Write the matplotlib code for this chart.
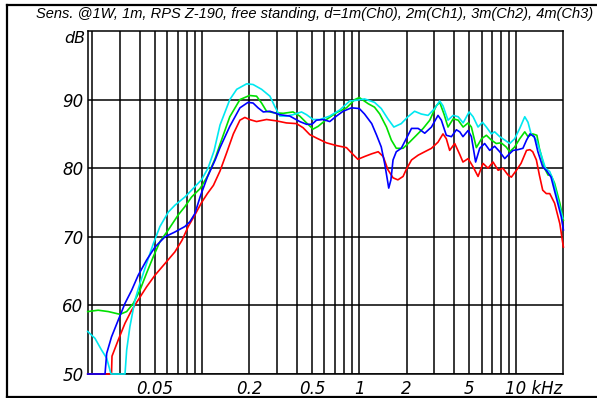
import matplotlib
matplotlib.use("Agg")
import matplotlib.pyplot as plt
from matplotlib.lines import Line2D

# frequency in kHz, level in dB -- one pair of lists per channel
freq_ch0 = [0.0187, 0.0265, 0.0267, 0.0293, 0.0323, 0.0356, 0.0392, 0.0443, 0.0501, 0.058,
            0.0671, 0.0745, 0.0816, 0.09, 0.0992, 0.108, 0.118, 0.13, 0.143, 0.158,
            0.174, 0.187, 0.2, 0.222, 0.257, 0.297, 0.344, 0.399, 0.439, 0.484,
            0.534, 0.618, 0.716, 0.829, 0.913, 0.98, 1.08, 1.2, 1.32, 1.42,
            1.52, 1.64, 1.76, 1.9, 1.99, 2.15, 2.37, 2.61, 2.88, 3.17,
            3.41, 3.58, 3.76, 4.05, 4.36, 4.57, 4.93, 5.3, 5.7, 6.13,
            6.6, 7.1, 7.65, 8.2, 8.85, 9.29, 10.0, 10.7, 11.6, 12.2,
            12.7, 13.4, 14.0, 14.7, 15.5, 16.3, 17.5, 18.9, 19.9]
spl_ch0 = [50.0, 50.0, 52.6, 55.0, 57.4, 59.3, 60.8, 62.7, 64.4, 66.1,
           67.8, 69.5, 71.5, 73.2, 75.0, 76.3, 77.5, 79.6, 82.2, 85.0,
           87.0, 87.4, 87.1, 86.8, 87.1, 86.9, 86.6, 86.5, 85.9, 84.9,
           84.4, 83.7, 83.3, 83.0, 82.0, 81.3, 81.7, 82.1, 82.4, 81.7,
           79.8, 78.6, 78.3, 78.8, 79.8, 81.2, 81.9, 82.4, 82.9, 83.8,
           85.0, 84.3, 82.6, 83.6, 82.0, 80.9, 81.4, 80.2, 78.8, 80.7,
           80.0, 80.9, 79.7, 80.0, 79.0, 78.7, 79.7, 80.7, 82.6, 82.7,
           82.4, 81.2, 79.0, 76.8, 76.3, 76.3, 74.9, 71.9, 68.5]

freq_ch1 = [0.0187, 0.0241, 0.0247, 0.0265, 0.0293, 0.0323, 0.0356, 0.0392, 0.0443, 0.0501,
            0.058, 0.0671, 0.0777, 0.0836, 0.09, 0.097, 0.108, 0.121, 0.13, 0.15,
            0.174, 0.196, 0.211, 0.227, 0.245, 0.27, 0.312, 0.361, 0.418, 0.462,
            0.5, 0.534, 0.588, 0.649, 0.716, 0.789, 0.892, 1.0, 1.08, 1.2,
            1.29, 1.38, 1.45, 1.51, 1.54, 1.59, 1.64, 1.72, 1.85, 1.99,
            2.15, 2.37, 2.61, 2.88, 3.17, 3.33, 3.58, 3.86, 4.15, 4.36,
            4.57, 4.93, 5.17, 5.5, 5.84, 6.28, 6.76, 7.27, 7.83, 8.43,
            8.85, 9.53, 10.2, 11.0, 11.6, 12.2, 13.0, 13.7, 14.7, 15.6,
            16.6, 17.9, 19.3, 19.9]
spl_ch1 = [50.0, 50.0, 53.0, 55.4, 57.9, 60.3, 62.2, 64.4, 66.6, 68.5,
           70.0, 70.7, 71.5, 72.2, 73.4, 75.8, 78.7, 81.2, 83.0, 86.1,
           88.8, 89.6, 89.5, 88.8, 88.2, 88.3, 87.8, 87.6, 86.8, 86.4,
           86.4, 87.0, 87.1, 86.8, 87.6, 88.3, 88.8, 88.7, 87.9, 86.5,
           84.8, 83.1, 80.7, 78.3, 77.1, 78.3, 81.2, 82.4, 82.9, 84.3,
           85.8, 85.8, 85.1, 86.0, 87.7, 87.0, 84.8, 84.6, 85.6, 85.3,
           84.6, 85.5, 84.6, 80.9, 82.9, 83.6, 82.6, 83.2, 82.4, 81.4,
           81.9, 82.6, 82.7, 82.9, 84.1, 85.0, 84.6, 82.4, 80.2, 79.6,
           78.7, 75.8, 72.9, 71.0]

freq_ch2 = [0.0187, 0.0218, 0.0253, 0.03, 0.0331, 0.0365, 0.0402, 0.0443, 0.0489, 0.0539,
            0.0609, 0.0705, 0.0777, 0.0857, 0.0968, 0.108, 0.121, 0.13, 0.15, 0.174,
            0.2, 0.222, 0.239, 0.257, 0.283, 0.328, 0.379, 0.418, 0.462, 0.508,
            0.547, 0.618, 0.716, 0.829, 0.936, 1.0, 1.14, 1.25, 1.35, 1.49,
            1.6, 1.72, 1.9, 2.09, 2.31, 2.55, 2.81, 3.09, 3.25, 3.46,
            3.67, 3.96, 4.26, 4.58, 4.93, 5.17, 5.56, 6.0, 6.44, 6.93,
            7.44, 8.0, 8.6, 9.07, 9.75, 10.5, 11.3, 11.85, 12.7, 13.5,
            14.0, 15.1, 15.9, 16.6, 17.5, 18.9, 19.9]
spl_ch2 = [59.1, 59.3, 59.1, 58.7, 59.1, 60.3, 62.2, 64.7, 67.1, 69.3,
           71.0, 73.2, 74.4, 75.8, 77.0, 78.8, 81.4, 83.5, 87.5, 90.0,
           90.6, 90.5, 89.5, 88.3, 88.1, 88.0, 88.2, 87.6, 86.6, 85.7,
           86.1, 87.1, 88.1, 88.8, 90.0, 90.3, 89.4, 88.9, 87.9, 86.0,
           84.1, 82.9, 82.9, 83.8, 84.8, 85.8, 87.0, 89.1, 89.6, 87.9,
           86.0, 87.2, 87.0, 86.0, 86.6, 86.0, 83.0, 84.3, 84.8, 84.1,
           83.6, 83.7, 83.1, 82.4, 83.1, 84.3, 85.3, 84.6, 85.0, 84.8,
           82.9, 80.0, 79.0, 79.0, 77.8, 74.9, 72.4]

freq_ch3 = [0.0187, 0.0208, 0.0229, 0.0247, 0.0263, 0.0323, 0.0331, 0.0347, 0.0374, 0.0402,
            0.0443, 0.0489, 0.0539, 0.0609, 0.0671, 0.0777, 0.0857, 0.099, 0.109, 0.119,
            0.13, 0.15, 0.166, 0.192, 0.211, 0.239, 0.27, 0.29, 0.312, 0.344,
            0.379, 0.429, 0.462, 0.508, 0.561, 0.649, 0.752, 0.87, 0.96, 1.08,
            1.25, 1.38, 1.52, 1.66, 1.85, 2.04, 2.25, 2.48, 2.74, 3.02,
            3.25, 3.41, 3.67, 3.96, 4.26, 4.58, 5.0, 5.3, 5.7, 6.08,
            6.44, 6.93, 7.27, 7.83, 8.43, 9.07, 9.75, 10.5, 11.3, 11.85,
            12.4, 13.4, 14.4, 15.3, 16.3, 17.1, 18.4, 19.7]
spl_ch3 = [56.2, 55.2, 53.5, 52.3, 50.0, 50.0, 53.5, 56.9, 60.8, 63.2,
           66.1, 69.0, 71.5, 73.6, 74.6, 75.8, 76.8, 78.3, 80.0, 82.5,
           86.3, 90.0, 91.5, 92.3, 92.2, 91.5, 90.5, 89.0, 87.6, 87.6,
           87.8, 88.2, 87.8, 87.1, 87.1, 87.6, 88.5, 89.8, 89.9, 90.1,
           89.6, 88.7, 87.2, 86.0, 86.5, 87.5, 88.3, 87.9, 87.7, 88.7,
           89.8, 89.1, 87.0, 87.7, 87.5, 86.6, 88.2, 87.5, 86.0, 86.7,
           86.0, 85.0, 85.3, 84.6, 84.1, 83.6, 84.3, 85.8, 87.5, 86.7,
           85.0, 84.1, 81.9, 80.0, 79.5, 78.3, 75.3, 72.7]

title = "Sens. @1W, 1m, RPS Z-190, free standing, d=1m(Ch0), 2m(Ch1), 3m(Ch2), 4m(Ch3)"
db_ticks = [50, 60, 70, 80, 90]
freq_ticks = [0.05, 0.2, 0.5, 1, 2, 5]
freq_ticklabels = ["0.05", "0.2", "0.5", "1", "2", "5"]
grid_freqs = ([k * 0.01 for k in range(2, 10)] + [k * 0.1 for k in range(1, 10)]
              + [float(k) for k in range(1, 11)])

tick_font = dict(family="DejaVu Sans", style="italic", size=12)

fig = plt.figure(figsize=(5.97, 3.98), dpi=100)
fig.patch.set_facecolor("white")
ax = fig.add_axes([0.1469, 0.0603, 0.7962, 0.8618])

ax.set_xscale("log")
ax.set_xlim(0.0187, 19.8)
ax.set_ylim(50, 100)

# grid drawn by hand so only the chosen decades get lines
for f in grid_freqs:
    ax.axvline(f, color="black", lw=1.1, zorder=1)
for d in db_ticks:
    ax.axhline(d, color="black", lw=1.1, zorder=1)

# curves run flat along the 50 dB floor, so let them sit on the spine
curve_style = dict(lw=1.2, clip_on=False)
ax.plot(freq_ch0, spl_ch0, color="#ff0000", zorder=3, **curve_style)
ax.plot(freq_ch2, spl_ch2, color="#00e000", zorder=3, **curve_style)
ax.plot(freq_ch3, spl_ch3, color="#00e8f0", zorder=3, **curve_style)
ax.plot(freq_ch1, spl_ch1, color="#0000ff", zorder=4, **curve_style)

for s in ax.spines.values():
    s.set_linewidth(1.1)
    s.set_color("black")
    s.set_zorder(2)

ax.minorticks_off()
ax.set_xticks(freq_ticks)
ax.set_xticklabels(freq_ticklabels, fontdict=tick_font)
ax.set_yticks(db_ticks)
ax.set_yticklabels([str(v) for v in db_ticks], fontdict=tick_font)
ax.tick_params(length=0, pad=3)
ax.tick_params(axis="x", pad=4)

ax.annotate("10 kHz", xy=(10, 0), xycoords=("data", "axes fraction"),
            xytext=(-8, -4), textcoords="offset points", ha="left", va="top",
            **tick_font)
ax.annotate("dB", xy=(0, 98.9), xycoords=("axes fraction", "data"),
            xytext=(-2, 0), textcoords="offset points", ha="right", va="center",
            family="DejaVu Sans", style="italic", size=11.5)

fig.text(0.5276, 0.965, title, ha="center", va="center",
         family="Liberation Sans", style="italic", size=10.5)

# outer frame (open on the right side)
frame_top = 1 - 5 / 398
frame_bottom = 1.5 / 398
frame_left = 7 / 597
fig.add_artist(Line2D([frame_left, 1], [frame_top, frame_top], transform=fig.transFigure,
                      color="black", lw=1.6))
fig.add_artist(Line2D([frame_left, 1], [frame_bottom, frame_bottom], transform=fig.transFigure,
                      color="black", lw=1.6))
fig.add_artist(Line2D([frame_left, frame_left], [frame_bottom, frame_top], transform=fig.transFigure,
                      color="black", lw=1.6))

fig.savefig("out.png", dpi=100, facecolor="white")
